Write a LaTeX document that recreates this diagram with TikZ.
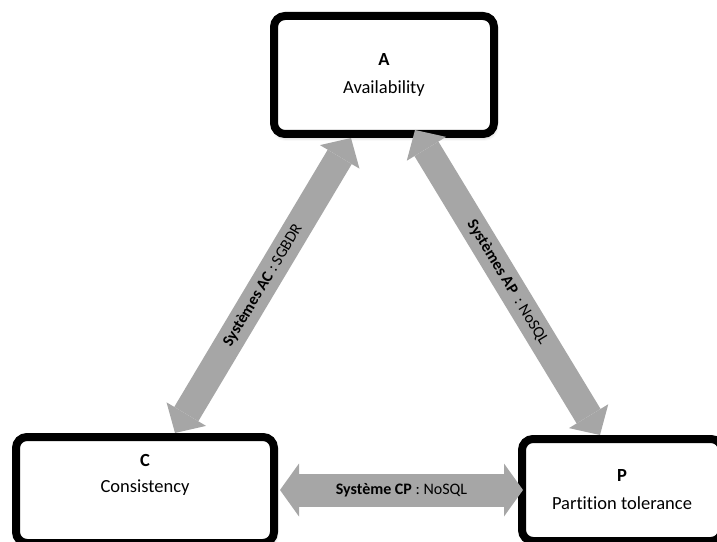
\documentclass[tikz,border=0pt]{standalone}
\usepackage{fontspec}
\setmainfont{Carlito}[Ligatures=NoCommon]
\usetikzlibrary{arrows.meta,positioning,shadows.blur}
\definecolor{a6a6a6}{HTML}{A6A6A6}

\begin{document}
\begin{tikzpicture}[x=1pt,y=1pt,
    box/.style={draw,line width=8pt,rounded corners=11pt,fill=white,align=center,font=\fontsize{18.5}{28}\selectfont,
        blur shadow={shadow xshift=1pt,shadow yshift=-3pt,shadow blur radius=4pt,shadow opacity=35}},
    boxtext/.style={align=center,font=\fontsize{18.5}{26}\selectfont,inner sep=0pt},
    sys/.style={a6a6a6,line width=28pt,{Triangle[width=46pt,length=22pt,line width=0pt]}-{Triangle[width=46pt,length=22pt,line width=0pt]}},
    syslabel/.style={black,midway,sloped,font=\fontsize{16}{18}\selectfont}]
\useasboundingbox(0,0)rectangle(717,541);
\clip(0,0)rectangle(717,541);
\node[box,minimum width=220pt,minimum height=118pt](A)at(384,466){\textbf{A}\\Availability};
\node[box,minimum width=258pt,minimum height=106pt](C)at(145,51){};
\node[boxtext](Ctext)at([yshift=15pt]C.center){\textbf{C}\\Consistency};
\node[box,minimum width=200pt,minimum height=102pt](P)at(622,51){\textbf{P}\\Partition tolerance};
\draw[sys]([xshift=30pt]C.north)--([xshift=-33pt]A.south)node[syslabel](ac){\textbf{Systèmes AC} : SGBDR};
\draw[sys]([xshift=31pt,yshift=8pt]A.south)--([xshift=-22pt]P.north)node[syslabel](ap){\textbf{Systèmes AP}\ \ : NoSQL};
\draw[sys,line width=33pt,{Triangle[width=53pt,length=19pt,line width=0pt]}-{Triangle[width=53pt,length=19pt,line width=0pt]}]
    ([xshift=2pt]C.east)--([xshift=5pt]P.west)node[syslabel](cp){\textbf{Système CP} : NoSQL};
\end{tikzpicture}
\end{document}
